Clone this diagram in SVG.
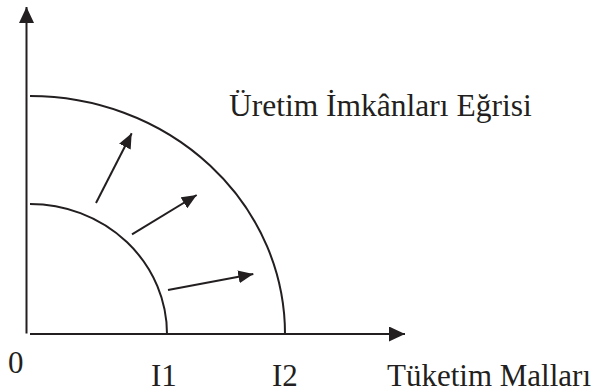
<svg xmlns="http://www.w3.org/2000/svg" width="594" height="392" viewBox="0 0 594 392">
<style>
.ln{fill:none;stroke:#231f20;stroke-width:2}
.t{font-family:"Liberation Serif","Times New Roman",serif;font-size:31px;fill:#231f20}
</style>
<defs>
<marker id="ax" markerUnits="userSpaceOnUse" markerWidth="16" markerHeight="15" refX="16" refY="7.5" orient="auto" viewBox="0 0 16 15">
<path d="M0,0 L16,7.5 L0,15 z" fill="#231f20"/>
</marker>
<marker id="ar" markerUnits="userSpaceOnUse" markerWidth="15" markerHeight="13" refX="15" refY="6.5" orient="auto" viewBox="0 0 15 13">
<path d="M0,0 L15,6.5 L0,13 z" fill="#231f20"/>
</marker>
</defs>
<g id="connectors">
<line class="ln" x1="26.5" y1="333.5" x2="26.5" y2="7" marker-end="url(#ax)"/>
<line class="ln" x1="30" y1="334" x2="405" y2="334" marker-end="url(#ax)"/>
<line class="ln" x1="96" y1="203" x2="131.7" y2="133.3" marker-end="url(#ar)"/>
<line class="ln" x1="132" y1="234.3" x2="196.7" y2="195" marker-end="url(#ar)"/>
<line class="ln" x1="168" y1="290" x2="253.3" y2="274" marker-end="url(#ar)"/>
</g>
<g id="inner-curve">
<path class="ln" d="M30,204 A137,130 0 0 1 167,334"/>
</g>
<g id="outer-curve">
<path class="ln" d="M30,96 A255,238 0 0 1 285,334"/>
</g>
<g id="labels">
<text class="t" x="229" y="115.5" style="font-size:31.5px">Üretim İmkânları Eğrisi</text>
<text class="t" x="8" y="373">0</text>
<text class="t" x="151" y="385.5">I1</text>
<text class="t" x="272" y="385.5">I2</text>
<text class="t" x="387" y="385.5">Tüketim Malları</text>
</g>
</svg>
